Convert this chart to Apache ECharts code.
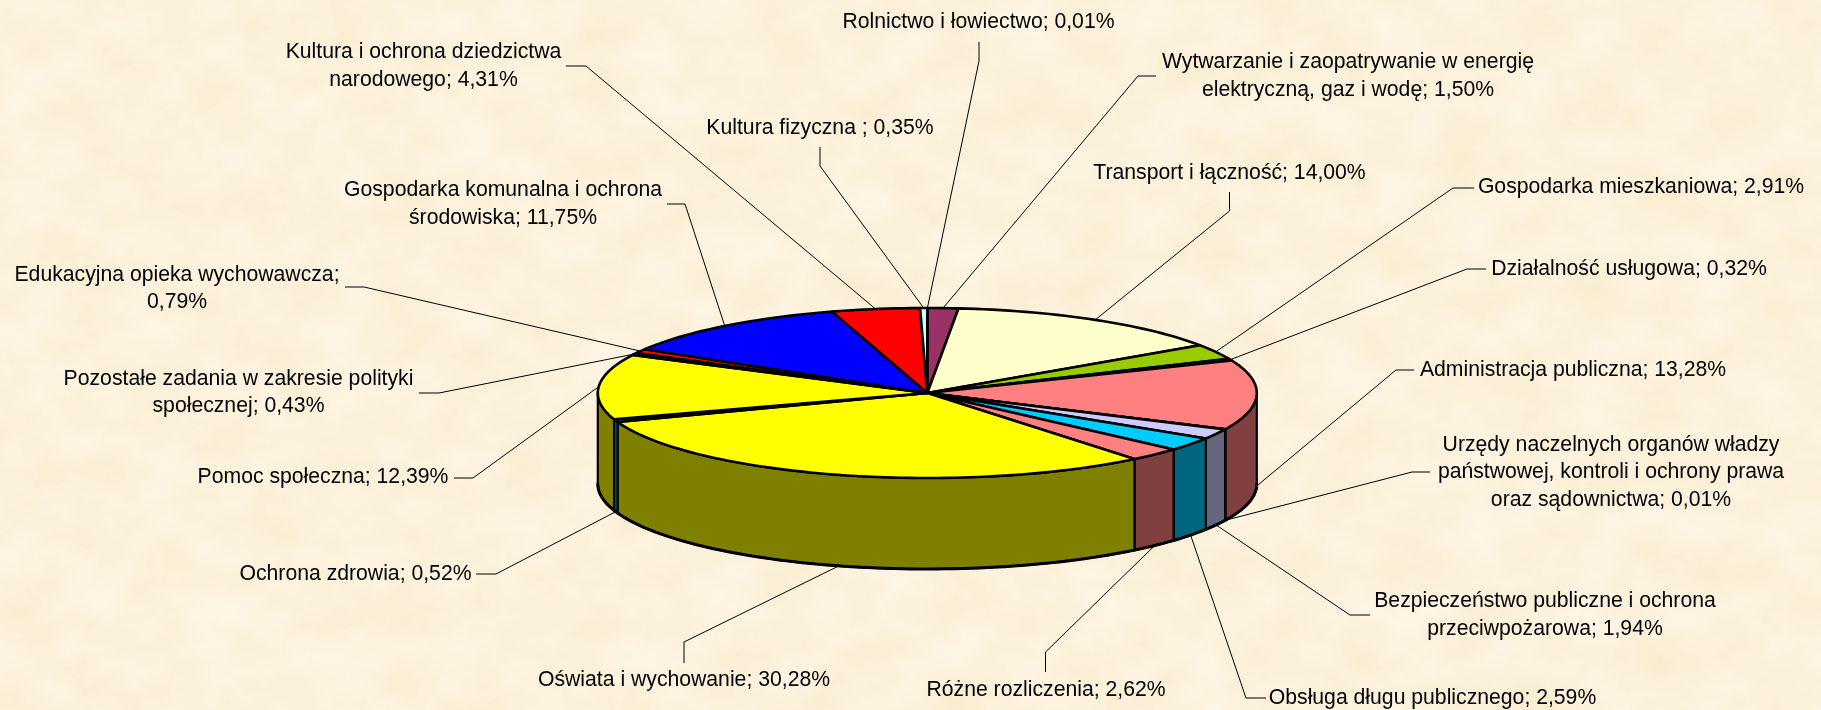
<!DOCTYPE html>
<html lang="pl">
<head>
<meta charset="utf-8">
<title>Wydatki wg działów</title>
<script src="https://cdn.jsdelivr.net/npm/echarts@6/dist/echarts.min.js"></script>
<style>
  html, body { margin: 0; padding: 0; width: 100%; height: 100%; overflow: hidden; background: #fcf1da; }
  #paper { position: absolute; left: 0; top: 0; }
  #chart { position: absolute; left: 0; top: 0; width: 1821px; height: 710px; }
</style>
</head>
<body>
<!-- parchment texture behind the chart -->
<svg id="paper" width="1821" height="710">
  <filter id="parchment" x="0" y="0" width="100%" height="100%" color-interpolation-filters="sRGB">
    <feTurbulence type="fractalNoise" baseFrequency="0.016 0.022" numOctaves="4" seed="7"/>
    <feColorMatrix type="matrix" values="0.03 0 0 0 0.972
                                         0.045 0 0 0 0.923
                                         0.11 0 0 0 0.805
                                         0 0 0 0 1"/>
  </filter>
  <rect width="1821" height="710" filter="url(#parchment)"/>
</svg>
<div id="chart"></div>
<script>
// clockwise from 12 o'clock, same order as the slices in the picture
const sliceNames = [
  'Rolnictwo i łowiectwo',
  'Wytwarzanie i zaopatrywanie w energię\nelektryczną, gaz i wodę',
  'Transport i łączność',
  'Gospodarka mieszkaniowa',
  'Działalność usługowa',
  'Administracja publiczna',
  'Urzędy naczelnych organów władzy\npaństwowej, kontroli i ochrony prawa\noraz sądownictwa',
  'Bezpieczeństwo publiczne i ochrona\nprzeciwpożarowa',
  'Obsługa długu publicznego',
  'Różne rozliczenia',
  'Oświata i wychowanie',
  'Ochrona zdrowia',
  'Pomoc społeczna',
  'Pozostałe zadania w zakresie polityki\nspołecznej',
  'Edukacyjna opieka wychowawcza\n',
  'Gospodarka komunalna i ochrona\nśrodowiska',
  'Kultura i ochrona dziedzictwa\nnarodowego',
  'Kultura fizyczna '
]
const sliceValues = [0.01, 1.5, 14, 2.91, 0.32, 13.28, 0.01, 1.94, 2.59, 2.62, 30.28, 0.52, 12.39, 0.43, 0.79, 11.75, 4.31, 0.35]
const sliceColors = ['#ffffff', '#993366', '#ffffcc', '#99cc00', '#ff8080', '#ff8080', '#ccccff', '#ccccff', '#00ccff', '#ff8080',
  '#ffff00', '#00ccff', '#ffff00', '#00ffff', '#ff0000', '#0000ff', '#ff0000', '#ccffff']

// text centre and leader elbow of each label, the leader's far end comes from the slice angle
const labelPlaces = [
  { x: 978.5, y: 22, leader: [[979, 42], [979, 61]] },
  { x: 1348, y: 76, leader: [[1156, 76], [1138, 76]] },
  { x: 1229.5, y: 173, leader: [[1229.5, 192], [1229.5, 211]] },
  { x: 1641, y: 187, leader: [[1474, 188], [1453, 188]] },
  { x: 1629, y: 269, leader: [[1486, 269], [1467, 269]] },
  { x: 1573, y: 370, leader: [[1414, 370], [1396, 370]] },
  { x: 1611, y: 472.5, leader: [[1430, 472], [1412, 472]] },
  { x: 1545, y: 615, leader: [[1370, 615], [1350, 615]] },
  { x: 1432.5, y: 698, leader: [[1266, 698], [1246, 698]] },
  { x: 1046, y: 690, leader: [[1045.5, 672], [1045.5, 652]] },
  { x: 684, y: 680, leader: [[684, 663], [684, 642]] },
  { x: 355.5, y: 574, leader: [[476, 574], [496, 574]] },
  { x: 323, y: 477, leader: [[454, 478], [473, 478]] },
  { x: 238.5, y: 392.5, leader: [[419, 393], [439, 393]] },
  { x: 177, y: 288.5, leader: [[345, 287], [364, 287]] },
  { x: 503, y: 204, leader: [[667, 204], [685, 204]] },
  { x: 423.5, y: 66, leader: [[566, 66], [586, 66]] },
  { x: 820, y: 128, leader: [[820, 147], [820, 166]] }
]

const pieX = 927.3
const pieY = 393
const pieRx = 329.5
const pieRy = 85
const pieDepth = 91

const total = sliceValues.reduce((a, b) => a + b, 0)
let running = 0
const sliceAngles = sliceValues.map(v => {
  const start = running / total * 360
  running += v
  return [start, running / total * 360]
})

const rim = (deg, drop) => {
  const r = deg * Math.PI / 180
  return [pieX + pieRx * Math.sin(r), pieY - pieRy * Math.cos(r) + (drop || 0)]
}

const arcPoints = (from, to, drop) => {
  const steps = Math.max(1, Math.ceil((to - from) / 1.5))
  const pts = []
  for (let i = 0; i <= steps; i++) pts.push(rim(from + (to - from) * i / steps, drop))
  return pts
}

const darker = hex => {
  const n = parseInt(hex.slice(1), 16)
  const half = s => Math.round(((n >> s) & 255) / 2)
  return 'rgb(' + half(16) + ',' + half(8) + ',' + half(0) + ')'
}

const labelText = i => {
  const num = sliceValues[i].toFixed(2).replace('.', ',') + '%'
  const name = sliceNames[i]
  return name.endsWith('\n') ? name.trim() + ';\n' + num : name + '; ' + num
}

const renderWall = (params, api) => {
  const a = sliceAngles[api.value(0)]
  const from = Math.max(a[0], 90)
  const to = Math.min(a[1], 270)
  if (from >= to) return null
  const bottom = arcPoints(from, to, pieDepth)
  const pts = arcPoints(from, to, 0).concat(bottom.slice().reverse())
  return {
    type: 'group',
    children: [
      {
        type: 'polygon',
        shape: { points: pts },
        style: { fill: darker(sliceColors[api.value(0)]), stroke: '#000', lineWidth: 2.2, lineJoin: 'round' }
      },
      // the outer rim is heavier than the dividers
      {
        type: 'polyline',
        shape: { points: bottom },
        style: { fill: null, stroke: '#000', lineWidth: 3, lineCap: 'round' }
      }
    ]
  }
}

const renderTop = (params, api) => {
  const a = sliceAngles[api.value(0)]
  const pts = [[pieX, pieY]].concat(arcPoints(a[0], a[1], 0))
  return {
    type: 'polygon',
    shape: { points: pts },
    style: { fill: sliceColors[api.value(0)], stroke: '#000', lineWidth: 2.6, lineJoin: 'round' }
  }
}

const renderLabel = (params, api) => {
  const i = api.value(0)
  const place = labelPlaces[i]
  const mid = (sliceAngles[i][0] + sliceAngles[i][1]) / 2
  const front = mid > 90 && mid < 270
  const end = rim(mid, front ? pieDepth : 0)
  return {
    type: 'group',
    children: [
      {
        type: 'polyline',
        shape: { points: place.leader.concat([end]) },
        style: { fill: null, stroke: '#000', lineWidth: 1 }
      },
      {
        type: 'text',
        style: {
          text: labelText(i),
          x: place.x,
          y: place.y,
          align: 'center',
          verticalAlign: 'middle',
          fontFamily: '"Liberation Sans", Arial, sans-serif',
          fontSize: 21.2,
          lineHeight: 27.5,
          fill: '#000'
        }
      }
    ]
  }
}

const sliceIndex = sliceValues.map((v, i) => [i, v])

const myChart = echarts.init(document.getElementById('chart'), null, { renderer: 'canvas' })
myChart.setOption({
  backgroundColor: 'transparent',
  animation: false,
  tooltip: { show: false },
  series: [
    { type: 'custom', coordinateSystem: 'none', silent: true, z: 3, data: sliceIndex, renderItem: renderLabel },
    { type: 'custom', coordinateSystem: 'none', silent: true, z: 4, data: sliceIndex, renderItem: renderWall },
    { type: 'custom', coordinateSystem: 'none', silent: true, z: 5, data: sliceIndex, renderItem: renderTop }
  ]
})
</script>
</body>
</html>
